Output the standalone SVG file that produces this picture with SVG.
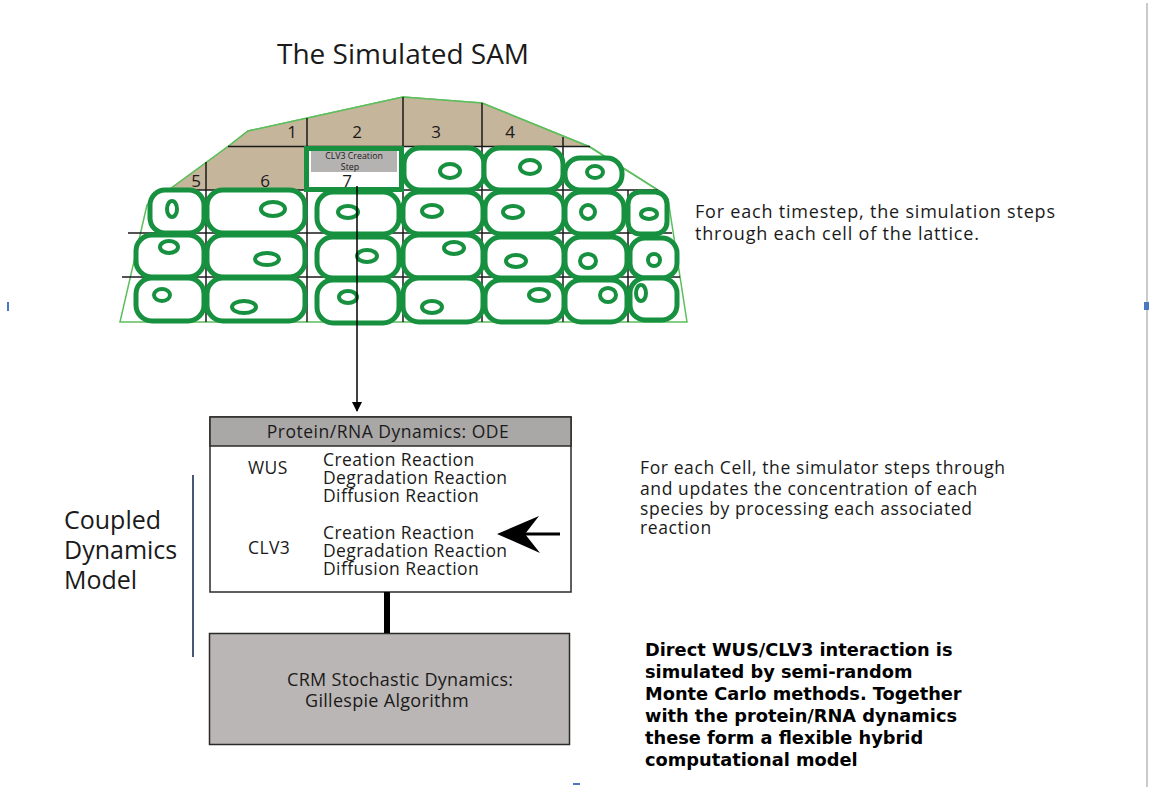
<svg xmlns="http://www.w3.org/2000/svg" width="1149" height="787" viewBox="0 0 1149 787">
  <style>
    .cell { fill: #ffffff; stroke: #17913f; stroke-width: 5; }
    .nuc { fill: #ffffff; stroke: #17913f; stroke-width: 4; }
    .grid { stroke: #1a1a1a; stroke-width: 1.5; fill: none; }
    .num { font-family: "Open Sans", "Liberation Sans", sans-serif; font-size: 17px; fill: #1a1a1a; }
    .body { font-family: "Open Sans", "Liberation Sans", sans-serif; fill: #1a1a1a; }
    .rx { font-size: 17.5px; letter-spacing: 0.4px; }
    .bold { font-family: "DejaVu Sans", "Liberation Sans", sans-serif; font-weight: bold; font-size: 17.8px; fill: #000000; }
  </style>
  <defs>
    <marker id="arrowDown" viewBox="0 0 10 10" refX="9" refY="5" markerWidth="10" markerHeight="10" markerUnits="userSpaceOnUse" orient="auto">
      <path d="M0,0 L10,5 L0,10 z" fill="#000000"/>
    </marker>
  </defs>
  <rect width="1149" height="787" fill="#ffffff"/>

  <!-- page edge marks -->
  <line x1="1147" y1="3" x2="1147" y2="787" stroke="#b8b8b8" stroke-width="1.5"/>
  <rect x="1144" y="302" width="5" height="8" fill="#4a78c0"/>
  <rect x="7" y="302" width="2" height="9" fill="#4a78c0"/>
  <rect x="573" y="783" width="7" height="2" fill="#4a78c0"/>

  <!-- title -->
  <text class="body" x="403" y="64" font-size="28" text-anchor="middle">The Simulated SAM</text>

  <!-- lattice of cells -->
  <g id="sam-lattice">
    <polygon points="120,322 147,205 170,189 230,145 248,131 403,97 482,103 590,147 658,190 668,199 687,322" fill="#ffffff" stroke="#5cbf5c" stroke-width="1.5"/>
    <polygon points="166,190 170,189 230,145 248,131 403,97 482,103 590,147 305,147 305,190" fill="#c4b59b"/>
    <polyline points="170,189 230,145 248,131 403,97 482,103 590,147 658,190 668,199" fill="none" stroke="#5cbf5c" stroke-width="1.5"/>

    <!-- grid -->
    <line class="grid" x1="228" y1="146.5" x2="590" y2="146.5"/>
    <line class="grid" x1="160" y1="190" x2="658" y2="190"/>
    <line class="grid" x1="128" y1="233" x2="672" y2="233"/>
    <line class="grid" x1="122" y1="277" x2="680" y2="277"/>
    <line class="grid" x1="206" y1="162" x2="206" y2="322"/>
    <line class="grid" x1="307" y1="118" x2="307" y2="322"/>
    <line class="grid" x1="403" y1="97" x2="403" y2="322"/>
    <line class="grid" x1="482" y1="103" x2="482" y2="322"/>
    <line class="grid" x1="563" y1="137" x2="563" y2="322"/>
    <line class="grid" x1="628" y1="190" x2="628" y2="322"/>

    <!-- lattice numbers -->
    <text class="num" x="292" y="138" text-anchor="middle">1</text>
    <text class="num" x="357" y="138" text-anchor="middle">2</text>
    <text class="num" x="436" y="138" text-anchor="middle">3</text>
    <text class="num" x="510" y="138" text-anchor="middle">4</text>
    <text class="num" x="196" y="187" text-anchor="middle">5</text>
    <text class="num" x="265" y="187" text-anchor="middle">6</text>

    <!-- row 1 -->
    <g id="cell-7">
      <rect x="306.5" y="148.5" width="95" height="41" fill="#ffffff" stroke="#17913f" stroke-width="5"/>
      <rect x="311" y="151" width="86" height="21" fill="#b5b2b2"/>
      <text class="body" x="354" y="159" font-size="8.8" fill="#3a3a3a" text-anchor="middle">CLV3 Creation</text>
      <text class="body" x="350" y="169.5" font-size="8.8" fill="#3a3a3a" text-anchor="middle">Step</text>
      <text class="num" x="347" y="187" font-size="15" text-anchor="middle">7</text>
    </g>
    <rect class="cell" x="404" y="148" width="80" height="42" rx="16"/>
    <ellipse class="nuc" cx="450" cy="171" rx="10" ry="7"/>
    <rect class="cell" x="484" y="148" width="79" height="42" rx="16"/>
    <ellipse class="nuc" cx="530" cy="167" rx="10" ry="7"/>
    <rect class="cell" x="565" y="158" width="57" height="32" rx="15"/>
    <ellipse class="nuc" cx="595" cy="172" rx="8" ry="6"/>

    <!-- row 2 -->
    <rect class="cell" x="150" y="190" width="54" height="43" rx="15"/>
    <ellipse class="nuc" cx="172" cy="209" rx="5" ry="8"/>
    <rect class="cell" x="207" y="190" width="98" height="43" rx="16"/>
    <ellipse class="nuc" cx="273" cy="209" rx="12" ry="7"/>
    <rect class="cell" x="317" y="192" width="82" height="42" rx="16"/>
    <ellipse class="nuc" cx="348" cy="212" rx="10" ry="6"/>
    <rect class="cell" x="403" y="192" width="80" height="42" rx="16"/>
    <ellipse class="nuc" cx="432" cy="211" rx="10" ry="6"/>
    <rect class="cell" x="485" y="192" width="79" height="42" rx="16"/>
    <ellipse class="nuc" cx="513" cy="212" rx="10" ry="6"/>
    <rect class="cell" x="565" y="192" width="59" height="42" rx="16"/>
    <ellipse class="nuc" cx="588" cy="212" rx="7" ry="7"/>
    <rect class="cell" x="628" y="192" width="39" height="42" rx="12"/>
    <ellipse class="nuc" cx="649" cy="214" rx="8" ry="5"/>

    <!-- row 3 -->
    <rect class="cell" x="136" y="235" width="68" height="42" rx="16"/>
    <ellipse class="nuc" cx="169" cy="247" rx="9" ry="6"/>
    <rect class="cell" x="207" y="235" width="98" height="42" rx="16"/>
    <ellipse class="nuc" cx="267" cy="259" rx="12" ry="6"/>
    <rect class="cell" x="317" y="237" width="82" height="41" rx="16"/>
    <ellipse class="nuc" cx="367" cy="256" rx="10" ry="6"/>
    <rect class="cell" x="403" y="235" width="80" height="43" rx="16"/>
    <ellipse class="nuc" cx="454" cy="248" rx="10" ry="6"/>
    <rect class="cell" x="485" y="237" width="79" height="41" rx="16"/>
    <ellipse class="nuc" cx="516" cy="261" rx="10" ry="6"/>
    <rect class="cell" x="565" y="237" width="62" height="41" rx="16"/>
    <ellipse class="nuc" cx="588" cy="261" rx="8" ry="7"/>
    <rect class="cell" x="630" y="238" width="47" height="40" rx="15"/>
    <ellipse class="nuc" cx="654" cy="260" rx="6" ry="6"/>

    <!-- row 4 -->
    <rect class="cell" x="136" y="278" width="68" height="43" rx="16"/>
    <ellipse class="nuc" cx="162" cy="295" rx="8" ry="6"/>
    <rect class="cell" x="207" y="278" width="98" height="43" rx="16"/>
    <ellipse class="nuc" cx="244" cy="307" rx="12" ry="6"/>
    <rect class="cell" x="317" y="280" width="82" height="43" rx="16"/>
    <ellipse class="nuc" cx="348" cy="297" rx="9" ry="6"/>
    <rect class="cell" x="403" y="278" width="80" height="44" rx="16"/>
    <ellipse class="nuc" cx="432" cy="307" rx="10" ry="6"/>
    <rect class="cell" x="485" y="280" width="79" height="42" rx="16"/>
    <ellipse class="nuc" cx="539" cy="295" rx="10" ry="6"/>
    <rect class="cell" x="565" y="280" width="62" height="42" rx="16"/>
    <ellipse class="nuc" cx="608" cy="295" rx="8" ry="7"/>
    <rect class="cell" x="630" y="278" width="47" height="42" rx="15"/>
    <ellipse class="nuc" cx="641" cy="293" rx="5" ry="8"/>
  </g>

  <!-- lattice caption -->
  <g id="lattice-caption">
    <text class="body" font-size="18" letter-spacing="0.8" x="695" y="218">For each timestep, the simulation steps</text>
    <text class="body" font-size="18" letter-spacing="0.8" x="695" y="240">through each cell of the lattice.</text>
  </g>

  <!-- ODE box -->
  <g id="ode-box">
    <rect x="210" y="417" width="361" height="175" fill="#ffffff" stroke="#2a2a2a" stroke-width="1.5"/>
    <rect x="210" y="417" width="361" height="29" fill="#aaa7a7" stroke="#2a2a2a" stroke-width="1.5"/>
    <text class="body" font-size="17.5" letter-spacing="0.5" x="388" y="438" text-anchor="middle">Protein/RNA Dynamics: ODE</text>
    <text class="body rx" x="248" y="474">WUS</text>
    <text class="body rx" x="323" y="466" fill="#a6a6a6">Creation Reaction</text>
    <text class="body rx" x="323" y="484" fill="#a6a6a6">Degradation Reaction</text>
    <text class="body rx" x="323" y="502" fill="#a6a6a6">Diffusion Reaction</text>
    <text class="body rx" x="248" y="554">CLV3</text>
    <text class="body rx" x="323" y="539">Creation Reaction</text>
    <text class="body rx" x="323" y="557">Degradation Reaction</text>
    <text class="body rx" x="323" y="575">Diffusion Reaction</text>
  </g>

  <!-- CRM box -->
  <g id="crm-box">
    <rect x="209.5" y="633.5" width="360" height="111" fill="#bab6b5" stroke="#2a2a2a" stroke-width="1.5"/>
    <text class="body" font-size="18" letter-spacing="0.3" x="287" y="686">CRM Stochastic Dynamics:</text>
    <text class="body" font-size="18" letter-spacing="0.3" x="305" y="707">Gillespie Algorithm</text>
  </g>

  <!-- coupled model label -->
  <g id="coupled-label">
    <text class="body" font-size="25" x="64" y="529">Coupled</text>
    <text class="body" font-size="25" x="64" y="559">Dynamics</text>
    <text class="body" font-size="25" x="64" y="589">Model</text>
    <line x1="193" y1="475" x2="193" y2="657" stroke="#4a5878" stroke-width="2"/>
  </g>

  <!-- per-cell caption -->
  <g id="cell-caption">
    <text class="body" font-size="17.5" letter-spacing="0.6" x="640" y="474">For each Cell, the simulator steps through</text>
    <text class="body" font-size="17.5" letter-spacing="0.6" x="640" y="495">and updates the concentration of each</text>
    <text class="body" font-size="17.5" letter-spacing="0.6" x="640" y="515">species by processing each associated</text>
    <text class="body" font-size="17.5" letter-spacing="0.6" x="640" y="534">reaction</text>
  </g>

  <!-- hybrid model note -->
  <g id="hybrid-note">
    <text class="bold" x="645" y="656">Direct WUS/CLV3 interaction is</text>
    <text class="bold" x="645" y="678">simulated by semi-random</text>
    <text class="bold" x="645" y="700">Monte Carlo methods. Together</text>
    <text class="bold" x="645" y="722">with the protein/RNA dynamics</text>
    <text class="bold" x="645" y="744">these form a flexible hybrid</text>
    <text class="bold" x="645" y="766">computational model</text>
  </g>

  <!-- connectors -->
  <g id="connectors">
    <line x1="357" y1="186" x2="357" y2="411" stroke="#000000" stroke-width="1.5" marker-end="url(#arrowDown)"/>
    <line x1="387" y1="592" x2="387" y2="633" stroke="#000000" stroke-width="6"/>
    <line x1="524" y1="534" x2="560" y2="534" stroke="#000000" stroke-width="3"/>
    <path d="M497,534 L539,516 L525,534 L540,553 z" fill="#000000"/>
  </g>
</svg>
